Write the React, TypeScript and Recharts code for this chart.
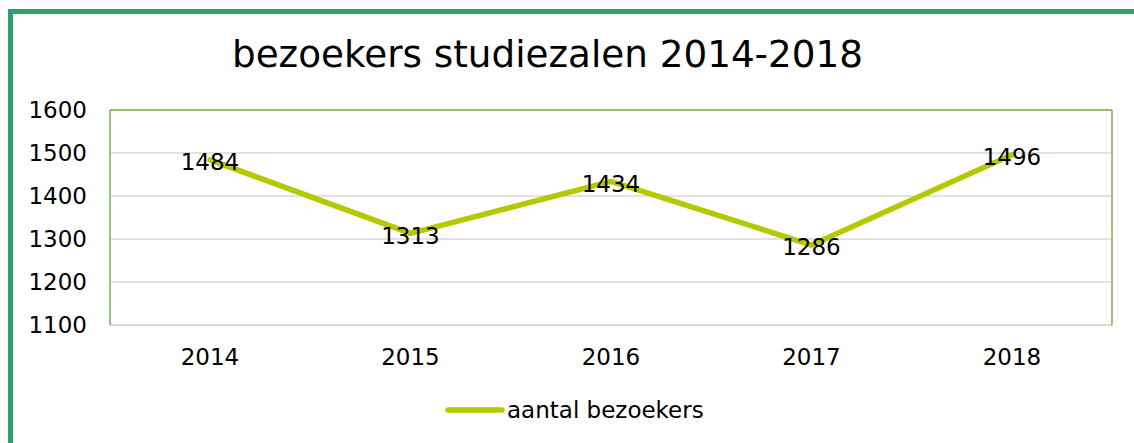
import React from 'react';
import { LineChart, Line, XAxis, YAxis, CartesianGrid, LabelList, Legend } from 'recharts';

const years = ['2014', '2015', '2016', '2017', '2018'];
const visitors = [1484, 1313, 1434, 1286, 1496];
const yTicks = [1100, 1200, 1300, 1400, 1500, 1600];
const seriesName = 'aantal bezoekers';
const title = 'bezoekers studiezalen 2014-2018';

const data = years.map((y, i) => ({ year: y, value: visitors[i] }));

const FONT = '"DejaVu Sans", Verdana, sans-serif';
const LINE_COLOR = '#B5C900';
const PLOT_BORDER = '#7DB346';
const GRID = '#D9D9D9';

const LegendContent = () => (
  <div style={{ position: 'relative', width: 1134, height: 30 }}>
    <svg style={{ position: 'absolute', left: 444, top: 11 }} width={62} height={8}>
      <line x1={4} y1={4} x2={58} y2={4} stroke={LINE_COLOR} strokeWidth={5.5} strokeLinecap="round" />
    </svg>
    <div
      style={{
        position: 'absolute',
        left: 507,
        top: 0,
        height: 30,
        lineHeight: '30px',
        fontSize: 23,
        color: '#000',
        whiteSpace: 'nowrap',
        fontFamily: FONT,
      }}
    >
      {seriesName}
    </div>
  </div>
);

export default function App() {
  return (
    <div
      style={{
        position: 'absolute',
        left: 0,
        top: 0,
        width: 1134,
        height: 443,
        overflow: 'hidden',
        background: '#fff',
        fontFamily: FONT,
      }}
    >
      <div
        style={{
          position: 'absolute',
          left: 8,
          top: 9,
          width: 1200,
          height: 500,
          borderLeft: '5px solid #2DA06B',
          borderTop: '5px solid #2DA06B',
        }}
      />
      <div
        style={{
          position: 'absolute',
          left: 0,
          top: 32,
          width: 1095,
          textAlign: 'center',
          fontSize: 37.3,
          lineHeight: '44px',
          color: '#000',
          whiteSpace: 'nowrap',
        }}
      >
        {title}
      </div>
      <LineChart
        width={1134}
        height={443}
        data={data}
        margin={{ top: 109, right: 21, left: 0, bottom: 18 }}
        style={{ position: 'absolute', left: 0, top: 0 }}
      >
        <CartesianGrid vertical={false} stroke={GRID} strokeWidth={1.5} />
        <XAxis
          dataKey="year"
          height={70}
          padding={{ left: 100, right: 100 }}
          axisLine={{ stroke: GRID, strokeWidth: 1.5 }}
          tickLine={false}
          tickSize={0}
          tickMargin={24}
          tick={{ fontSize: 23, fill: '#000', fontFamily: FONT }}
        />
        <XAxis
          xAxisId="top"
          dataKey="year"
          orientation="top"
          height={1}
          padding={{ left: 100, right: 100 }}
          axisLine={{ stroke: PLOT_BORDER, strokeWidth: 1.5 }}
          tick={false}
          tickLine={false}
        />
        <YAxis
          width={110}
          domain={[1100, 1600]}
          ticks={yTicks}
          interval={0}
          axisLine={{ stroke: PLOT_BORDER, strokeWidth: 1.5 }}
          tickLine={false}
          tickSize={0}
          tickMargin={23}
          tick={{ fontSize: 23, fill: '#000', fontFamily: FONT }}
        />
        <YAxis
          yAxisId="right"
          orientation="right"
          width={1}
          domain={[1100, 1600]}
          ticks={yTicks}
          axisLine={{ stroke: PLOT_BORDER, strokeWidth: 1.5 }}
          tick={false}
          tickLine={false}
        />
        <Legend verticalAlign="bottom" wrapperStyle={{ left: 0, bottom: 18, width: 1134 }} content={<LegendContent />} />
        <Line
          xAxisId="top"
          yAxisId="right"
          type="linear"
          dataKey="value"
          stroke="none"
          strokeWidth={0}
          dot={false}
          activeDot={false}
          legendType="none"
          isAnimationActive={false}
        />
        <Line
          type="linear"
          dataKey="value"
          name={seriesName}
          stroke={LINE_COLOR}
          strokeWidth={5.5}
          strokeLinecap="round"
          strokeLinejoin="round"
          dot={false}
          isAnimationActive={false}
        >
          <LabelList dataKey="value" position="center" fontSize={23} fill="#000" fontFamily={FONT} dy={2} />
        </Line>
      </LineChart>
    </div>
  );
}
